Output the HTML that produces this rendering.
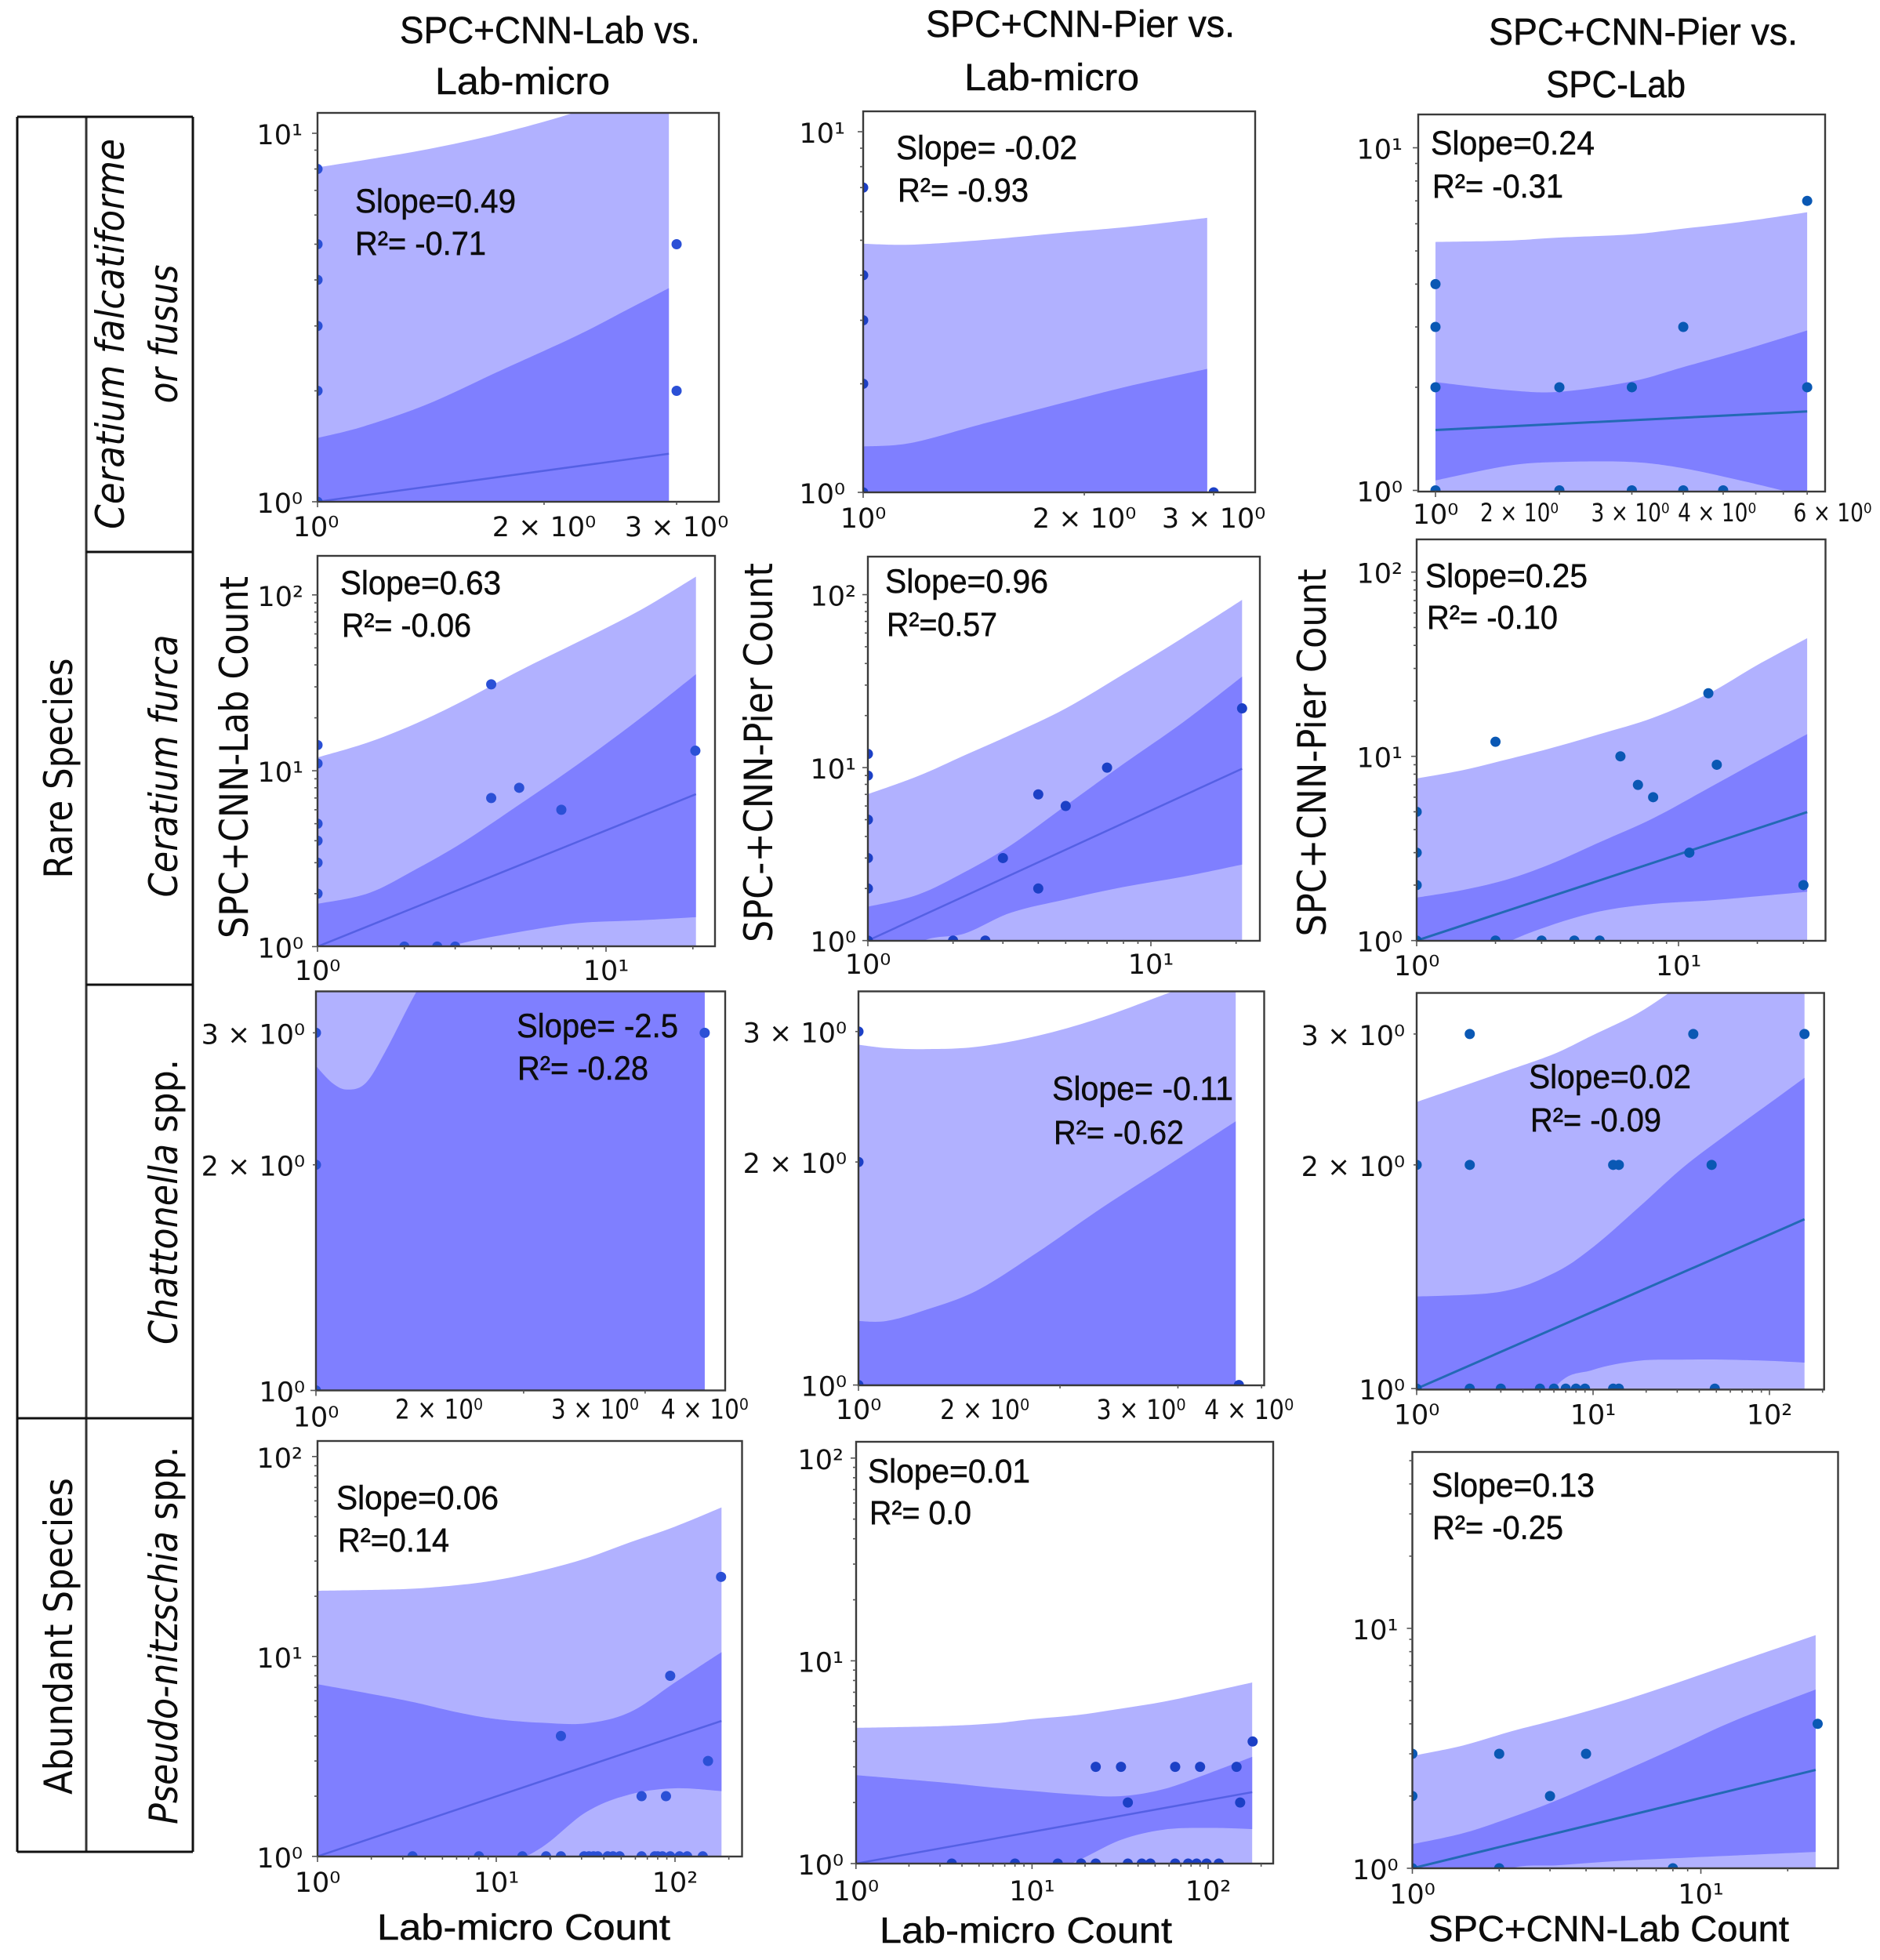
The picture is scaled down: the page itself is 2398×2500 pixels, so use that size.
<!DOCTYPE html>
<html lang="en">
<head>
<meta charset="utf-8">
<title>Species count regression panels</title>
<style>
  html, body { margin: 0; padding: 0; background: #fff; }
  svg { display: block; }
  .ttl { font-family: "Liberation Sans", sans-serif; font-size: 48px; fill: #0c0c0c; stroke: #0c0c0c; stroke-width: 0.5px; }
  .ann { font-family: "Liberation Sans", sans-serif; font-size: 43px; fill: #0c0c0c; stroke: #0c0c0c; stroke-width: 0.5px; }
  .xl  { font-family: "Liberation Sans", sans-serif; font-size: 46px; fill: #0c0c0c; stroke: #0c0c0c; stroke-width: 0.5px; }
  .yl  { font-family: "DejaVu Sans", sans-serif; font-size: 50px; fill: #0c0c0c; }
  .rl  { font-family: "DejaVu Sans", sans-serif; font-size: 50px; fill: #0c0c0c; font-style: italic; }
  .gl  { font-family: "DejaVu Sans", sans-serif; font-size: 50px; fill: #0c0c0c; }
  .tk  { font-family: "DejaVu Sans", sans-serif; fill: #111; }
</style>
</head>
<body>
<svg id="figure" xmlns="http://www.w3.org/2000/svg" width="2398" height="2500" viewBox="0 0 2398 2500">
  <rect x="0" y="0" width="2398" height="2500" fill="#ffffff"/>

  <g id="panels"></g>

  <g stroke="#111" stroke-width="3" fill="none">
    <line x1="22" y1="149" x2="22" y2="2362"/>
    <line x1="110" y1="149" x2="110" y2="2362" stroke="#333"/>
    <line x1="246" y1="149" x2="246" y2="2362"/>
    <line x1="22" y1="149" x2="246" y2="149"/>
    <line x1="110" y1="704" x2="246" y2="704"/>
    <line x1="110" y1="1256" x2="246" y2="1256"/>
    <line x1="22" y1="1809" x2="246" y2="1809"/>
    <line x1="22" y1="2362" x2="246" y2="2362"/>
  </g>

  <g>
    <text class="gl" transform="translate(92,980) rotate(-90)" text-anchor="middle" textLength="281" lengthAdjust="spacingAndGlyphs">Rare Species</text>
    <text class="gl" transform="translate(92,2087) rotate(-90)" text-anchor="middle" textLength="404" lengthAdjust="spacingAndGlyphs">Abundant Species</text>
  </g>
  <g>
    <text class="rl" transform="translate(158,426) rotate(-90)" text-anchor="middle" textLength="498" lengthAdjust="spacingAndGlyphs">Ceratium falcatiforme</text>
    <text class="rl" transform="translate(226,426) rotate(-90)" text-anchor="middle" textLength="177" lengthAdjust="spacingAndGlyphs">or fusus</text>
    <text class="rl" transform="translate(226,977) rotate(-90)" text-anchor="middle" textLength="335" lengthAdjust="spacingAndGlyphs">Ceratium furca</text>
    <text class="rl" transform="translate(226,1533) rotate(-90)" text-anchor="middle" textLength="364" lengthAdjust="spacingAndGlyphs">Chattonella <tspan font-style="normal">spp.</tspan></text>
    <text class="rl" transform="translate(226,2086) rotate(-90)" text-anchor="middle" textLength="482" lengthAdjust="spacingAndGlyphs">Pseudo-nitzschia <tspan font-style="normal">spp.</tspan></text>
  </g>

  <g>
    <text class="ttl" x="510" y="55" textLength="383" lengthAdjust="spacingAndGlyphs">SPC+CNN-Lab vs.</text>
    <text class="ttl" x="555" y="120" textLength="223" lengthAdjust="spacingAndGlyphs">Lab-micro</text>
    <text class="ttl" x="1181" y="47" textLength="394" lengthAdjust="spacingAndGlyphs">SPC+CNN-Pier vs.</text>
    <text class="ttl" x="1230" y="115" textLength="223" lengthAdjust="spacingAndGlyphs">Lab-micro</text>
    <text class="ttl" x="1899" y="57" textLength="394" lengthAdjust="spacingAndGlyphs">SPC+CNN-Pier vs.</text>
    <text class="ttl" x="1972" y="124" textLength="178" lengthAdjust="spacingAndGlyphs">SPC-Lab</text>
  </g>

  <g>
    <text class="yl" transform="translate(316,966) rotate(-90)" text-anchor="middle" textLength="462" lengthAdjust="spacingAndGlyphs">SPC+CNN-Lab Count</text>
    <text class="yl" transform="translate(985,960) rotate(-90)" text-anchor="middle" textLength="484" lengthAdjust="spacingAndGlyphs">SPC-+CNN-Pier Count</text>
    <text class="yl" transform="translate(1691,960) rotate(-90)" text-anchor="middle" textLength="469" lengthAdjust="spacingAndGlyphs">SPC+CNN-Pier Count</text>
  </g>
  <g>
    <text class="xl" x="481" y="2474" textLength="374" lengthAdjust="spacingAndGlyphs">Lab-micro Count</text>
    <text class="xl" x="1122" y="2478" textLength="373" lengthAdjust="spacingAndGlyphs">Lab-micro Count</text>
    <text class="xl" x="1822" y="2476" textLength="460" lengthAdjust="spacingAndGlyphs">SPC+CNN-Lab Count</text>
  </g>

  <g>
    <text class="ann" x="453" y="271" textLength="205" lengthAdjust="spacingAndGlyphs">Slope=0.49</text>
    <text class="ann" x="453" y="325" textLength="167" lengthAdjust="spacingAndGlyphs">R²= -0.71</text>
    <text class="ann" x="1143" y="203" textLength="231" lengthAdjust="spacingAndGlyphs">Slope= -0.02</text>
    <text class="ann" x="1145" y="257" textLength="167" lengthAdjust="spacingAndGlyphs">R²= -0.93</text>
    <text class="ann" x="1825" y="197" textLength="209" lengthAdjust="spacingAndGlyphs">Slope=0.24</text>
    <text class="ann" x="1827" y="252" textLength="167" lengthAdjust="spacingAndGlyphs">R²= -0.31</text>
    <text class="ann" x="434" y="758" textLength="205" lengthAdjust="spacingAndGlyphs">Slope=0.63</text>
    <text class="ann" x="436" y="812" textLength="165" lengthAdjust="spacingAndGlyphs">R²= -0.06</text>
    <text class="ann" x="1129" y="756" textLength="208" lengthAdjust="spacingAndGlyphs">Slope=0.96</text>
    <text class="ann" x="1131" y="811" textLength="141" lengthAdjust="spacingAndGlyphs">R²=0.57</text>
    <text class="ann" x="1818" y="749" textLength="207" lengthAdjust="spacingAndGlyphs">Slope=0.25</text>
    <text class="ann" x="1820" y="802" textLength="167" lengthAdjust="spacingAndGlyphs">R²= -0.10</text>
    <text class="ann" x="659" y="1323" textLength="206" lengthAdjust="spacingAndGlyphs">Slope= -2.5</text>
    <text class="ann" x="660" y="1377" textLength="167" lengthAdjust="spacingAndGlyphs">R²= -0.28</text>
    <text class="ann" x="1342" y="1403" textLength="231" lengthAdjust="spacingAndGlyphs">Slope= -0.11</text>
    <text class="ann" x="1344" y="1459" textLength="166" lengthAdjust="spacingAndGlyphs">R²= -0.62</text>
    <text class="ann" x="1950" y="1388" textLength="207" lengthAdjust="spacingAndGlyphs">Slope=0.02</text>
    <text class="ann" x="1952" y="1443" textLength="167" lengthAdjust="spacingAndGlyphs">R²= -0.09</text>
    <text class="ann" x="429" y="1925" textLength="207" lengthAdjust="spacingAndGlyphs">Slope=0.06</text>
    <text class="ann" x="431" y="1979" textLength="142" lengthAdjust="spacingAndGlyphs">R²=0.14</text>
    <text class="ann" x="1107" y="1891" textLength="207" lengthAdjust="spacingAndGlyphs">Slope=0.01</text>
    <text class="ann" x="1109" y="1944" textLength="130" lengthAdjust="spacingAndGlyphs">R²= 0.0</text>
    <text class="ann" x="1826" y="1909" textLength="208" lengthAdjust="spacingAndGlyphs">Slope=0.13</text>
    <text class="ann" x="1827" y="1963" textLength="167" lengthAdjust="spacingAndGlyphs">R²= -0.25</text>
  </g>
</svg>

<script>
// ---- Row 1, column 1 ----
const r1c1BandX = [1, 1.15, 1.4, 1.75, 2.2, 2.6, 2.93];
const r1c1OuterHi = [8.08, 8.45, 9.05, 10.0, 11.4, 13.0, 15.0];
const r1c1InnerHi = [1.49, 1.6, 1.84, 2.27, 2.81, 3.35, 3.8];
const r1c1InnerLo = [0.6, 0.6, 0.6, 0.6, 0.6, 0.6, 0.6];
const r1c1OuterLo = [0.3, 0.3, 0.3, 0.3, 0.3, 0.3, 0.3];
const r1c1FitX = [1, 2.93];
const r1c1FitY = [1, 1.35];
const r1c1PtX = [1, 1, 1, 1, 1, 1, 3, 3];
const r1c1PtY = [8, 5, 4, 3, 2, 1, 5, 2];
const r1c1XTicks = [1, 2, 3];
const r1c1XLabels = ['10⁰', '2 × 10⁰', '3 × 10⁰'];
const r1c1YTicks = [10, 1];
const r1c1YLabels = ['10¹', '10⁰'];

// ---- Row 1, column 2 ----
const r1c2BandX = [1, 1.16, 1.44, 1.87, 2.3, 2.94];
const r1c2OuterHi = [4.89, 4.86, 5.0, 5.25, 5.45, 5.77];
const r1c2InnerHi = [1.34, 1.37, 1.54, 1.77, 1.97, 2.2];
const r1c2InnerLo = [0.6, 0.6, 0.6, 0.6, 0.6, 0.6];
const r1c2OuterLo = [0.3, 0.3, 0.3, 0.3, 0.3, 0.3];
const r1c2FitX = [1, 2.94];
const r1c2FitY = [1, 1];
const r1c2PtX = [1, 1, 1, 1, 1, 3];
const r1c2PtY = [7, 4, 3, 2, 1, 1];
const r1c2XTicks = [1, 2, 3];
const r1c2XLabels = ['10⁰', '2 × 10⁰', '3 × 10⁰'];
const r1c2YTicks = [10, 1];
const r1c2YLabels = ['10¹', '10⁰'];

// ---- Row 1, column 3 ----
const r1c3BandX = [1, 1.5, 2, 3, 4, 5.5, 8];
const r1c3OuterHi = [5.31, 5.36, 5.47, 5.59, 5.81, 6.07, 6.48];
const r1c3InnerHi = [2.07, 1.96, 1.94, 2.08, 2.29, 2.55, 2.93];
const r1c3InnerLo = [1.07, 1.18, 1.21, 1.21, 1.16, 1.07, 0.96];
const r1c3OuterLo = [0.3, 0.3, 0.3, 0.3, 0.3, 0.3, 0.3];
const r1c3FitX = [1, 8];
const r1c3FitY = [1.5, 1.7];
const r1c3PtX = [1, 1, 1, 1, 2, 3, 4, 8, 8, 2, 3, 4, 5];
const r1c3PtY = [4, 3, 2, 1, 2, 2, 3, 7, 2, 1, 1, 1, 1];
const r1c3XTicks = [1, 2, 3, 4, 6];
const r1c3XLabels = ['10⁰', '2 × 10⁰', '3 × 10⁰', '4 × 10⁰', '6 × 10⁰'];
const r1c3YTicks = [10, 1];
const r1c3YLabels = ['10¹', '10⁰'];

// ---- Row 2, column 1 ----
const r2c1BandX = [1, 1.5, 2.2, 3.2, 5, 8, 13, 20.5];
const r2c1OuterHi = [11.9, 14.5, 18.6, 25, 37, 54, 81, 127];
const r2c1InnerHi = [1.75, 2.01, 2.76, 3.93, 6.41, 10.9, 19.6, 35.4];
const r2c1InnerLo = [0.5, 0.68, 0.88, 1.05, 1.21, 1.36, 1.41, 1.47];
const r2c1OuterLo = [0.2, 0.2, 0.2, 0.2, 0.2, 0.2, 0.2, 0.2];
const r2c1FitX = [1, 20.5];
const r2c1FitY = [1, 7.36];
const r2c1PtX = [1, 1, 1, 1, 1, 1, 4, 4, 5, 7, 20.4, 2, 2.6, 3];
const r2c1PtY = [14, 11, 5, 4, 3, 2, 31, 7, 8, 6, 13, 1, 1, 1];
const r2c1XTicks = [1, 10];
const r2c1XLabels = ['10⁰', '10¹'];
const r2c1YTicks = [100, 10, 1];
const r2c1YLabels = ['10²', '10¹', '10⁰'];

// ---- Row 2, column 2 ----
const r2c2BandX = [1, 1.5, 2.2, 3.2, 5, 8, 13, 21];
const r2c2OuterHi = [7.03, 8.92, 11.8, 15.5, 22, 34.7, 56.5, 93.3];
const r2c2InnerHi = [1.57, 1.84, 2.49, 3.56, 6.03, 10.5, 18.3, 33.6];
const r2c2InnerLo = [0.5, 0.96, 1.1, 1.45, 1.73, 2.04, 2.34, 2.75];
const r2c2OuterLo = [0.2, 0.2, 0.2, 0.2, 0.2, 0.2, 0.2, 0.2];
const r2c2FitX = [1, 21];
const r2c2FitY = [1, 9.86];
const r2c2PtX = [1, 1, 1, 1, 1, 1, 3, 4, 4, 5, 7, 21, 2, 2.6];
const r2c2PtY = [12, 9, 5, 3, 2, 1, 3, 7, 2, 6, 10, 22, 1, 1];
const r2c2XTicks = [1, 10];
const r2c2XLabels = ['10⁰', '10¹'];
const r2c2YTicks = [100, 10, 1];
const r2c2YLabels = ['10²', '10¹', '10⁰'];

// ---- Row 2, column 3 ----
const r2c3BandX = [1, 1.5, 2.2, 3.2, 5, 8, 13, 20, 31];
const r2c3OuterHi = [7.58, 8.41, 9.6, 11, 13.2, 16.2, 21.9, 31.3, 43.8];
const r2c3InnerHi = [1.71, 1.88, 2.14, 2.58, 3.42, 4.61, 6.71, 9.4, 13.2];
const r2c3InnerLo = [0.4, 0.7, 0.97, 1.2, 1.44, 1.58, 1.65, 1.74, 1.84];
const r2c3OuterLo = [0.2, 0.2, 0.2, 0.2, 0.2, 0.2, 0.2, 0.2, 0.2];
const r2c3FitX = [1, 31];
const r2c3FitY = [1, 4.98];
const r2c3PtX = [1, 1, 1, 1, 2, 6, 7, 8, 13, 14, 11, 30, 2, 3, 4, 5];
const r2c3PtY = [5, 3, 2, 1, 12, 10, 7, 6, 22, 9, 3, 2, 1, 1, 1, 1];
const r2c3XTicks = [1, 10];
const r2c3XLabels = ['10⁰', '10¹'];
const r2c3YTicks = [100, 10, 1];
const r2c3YLabels = ['10²', '10¹', '10⁰'];

// ---- Row 3, column 1 ----
const r3c1BandX = [1, 1.057, 1.11, 1.18, 1.26, 1.4, 1.56, 3.66];
const r3c1OuterHi = [40, 40, 40, 40, 40, 40, 40, 40];
const r3c1InnerHi = [2.71, 2.57, 2.52, 2.57, 2.83, 3.41, 4, 12];
const r3c1InnerLo = [0.4, 0.4, 0.4, 0.4, 0.4, 0.4, 0.4, 0.4];
const r3c1OuterLo = [0.3, 0.3, 0.3, 0.3, 0.3, 0.3, 0.3, 0.3];
const r3c1FitX = [1, 3.66];
const r3c1FitY = [1, 1];
const r3c1PtX = [1, 1, 1, 3.66];
const r3c1PtY = [3, 2, 1, 3];
const r3c1XTicks = [1, 2, 3, 4];
const r3c1XLabels = ['10⁰', '2 × 10⁰', '3 × 10⁰', '4 × 10⁰'];
const r3c1YTicks = [3, 2, 1];
const r3c1YLabels = ['3 × 10⁰', '2 × 10⁰', '10⁰'];

// ---- Row 3, column 2 ----
const r3c2BandX = [1, 1.1, 1.25, 1.5, 1.85, 2.3, 2.9, 3.66];
const r3c2OuterHi = [2.88, 2.85, 2.84, 2.86, 2.96, 3.13, 3.38, 3.65];
const r3c2InnerHi = [1.22, 1.22, 1.26, 1.34, 1.51, 1.73, 1.98, 2.27];
const r3c2InnerLo = [0.4, 0.4, 0.4, 0.4, 0.4, 0.4, 0.4, 0.4];
const r3c2OuterLo = [0.3, 0.3, 0.3, 0.3, 0.3, 0.3, 0.3, 0.3];
const r3c2FitX = [1, 3.66];
const r3c2FitY = [1, 1];
const r3c2PtX = [1, 1, 1, 3.7];
const r3c2PtY = [3, 2, 1, 1];
const r3c2XTicks = [1, 2, 3, 4];
const r3c2XLabels = ['10⁰', '2 × 10⁰', '3 × 10⁰', '4 × 10⁰'];
const r3c2YTicks = [3, 2, 1];
const r3c2YLabels = ['3 × 10⁰', '2 × 10⁰', '10⁰'];

// ---- Row 3, column 3 ----
const r3c3BandX = [1, 3, 6, 10, 18, 32, 56, 100, 158];
const r3c3OuterHi = [2.43, 2.66, 2.82, 2.99, 3.2, 3.5, 3.78, 4.07, 4.35];
const r3c3InnerHi = [1.33, 1.35, 1.43, 1.55, 1.75, 1.98, 2.19, 2.42, 2.62];
const r3c3InnerLo = [0.5, 0.75, 1.0, 1.06, 1.09, 1.094, 1.094, 1.09, 1.084];
const r3c3OuterLo = [0.3, 0.3, 0.3, 0.3, 0.3, 0.3, 0.3, 0.3, 0.3];
const r3c3FitX = [1, 158];
const r3c3FitY = [1, 1.69];
const r3c3PtX = [2, 37, 158, 1, 2, 13, 14, 47, 1, 2, 3, 5, 6, 7, 8, 9, 13, 14, 49];
const r3c3PtY = [3, 3, 3, 2, 2, 2, 2, 2, 1, 1, 1, 1, 1, 1, 1, 1, 1, 1, 1];
const r3c3XTicks = [1, 10, 100];
const r3c3XLabels = ['10⁰', '10¹', '10²'];
const r3c3YTicks = [3, 2, 1];
const r3c3YLabels = ['3 × 10⁰', '2 × 10⁰', '10⁰'];

// ---- Row 4, column 1 ----
const r4c1BandX = [1, 3, 6, 10, 18, 32, 56, 100, 182];
const r4c1OuterHi = [21.3, 21.7, 22.7, 24.1, 26.9, 31, 37.2, 44.6, 55.6];
const r4c1InnerHi = [7.26, 6.06, 5.26, 4.86, 4.66, 4.63, 5.26, 7.41, 10.5];
const r4c1InnerLo = [0.55, 0.6, 0.7, 0.85, 1.11, 1.67, 2.04, 2.19, 2.12];
const r4c1OuterLo = [0.5, 0.5, 0.5, 0.5, 0.5, 0.5, 0.5, 0.5, 0.5];
const r4c1FitX = [1, 182];
const r4c1FitY = [1, 4.76];
const r4c1PtX = [181, 94, 23, 153, 65, 89, 3.4, 8, 14, 19, 23, 31, 33, 35, 37, 42, 45, 49, 65, 77, 80, 85, 94, 106, 117, 143];
const r4c1PtY = [25, 8, 4, 3, 2, 2, 1, 1, 1, 1, 1, 1, 1, 1, 1, 1, 1, 1, 1, 1, 1, 1, 1, 1, 1, 1];
const r4c1XTicks = [1, 10, 100];
const r4c1XLabels = ['10⁰', '10¹', '10²'];
const r4c1YTicks = [100, 10, 1];
const r4c1YLabels = ['10²', '10¹', '10⁰'];

// ---- Row 4, column 2 ----
const r4c2BandX = [1, 3, 6, 10, 18, 32, 56, 100, 178];
const r4c2OuterHi = [4.67, 4.76, 4.91, 5.16, 5.4, 5.81, 6.29, 7, 7.82];
const r4c2InnerHi = [2.73, 2.52, 2.37, 2.28, 2.19, 2.15, 2.33, 2.78, 3.36];
const r4c2InnerLo = [0.55, 0.6, 0.7, 0.85, 1.03, 1.31, 1.47, 1.5, 1.48];
const r4c2OuterLo = [0.5, 0.5, 0.5, 0.5, 0.5, 0.5, 0.5, 0.5, 0.5];
const r4c2FitX = [1, 178];
const r4c2FitY = [1, 2.25];
const r4c2PtX = [23, 32, 65, 90, 145, 179, 35, 152, 3.5, 8, 14, 19, 23, 35, 42, 47, 65, 77, 86, 98, 115];
const r4c2PtY = [3, 3, 3, 3, 3, 4, 2, 2, 1, 1, 1, 1, 1, 1, 1, 1, 1, 1, 1, 1, 1];
const r4c2XTicks = [1, 10, 100];
const r4c2XLabels = ['10⁰', '10¹', '10²'];
const r4c2YTicks = [100, 10, 1];
const r4c2YLabels = ['10²', '10¹', '10⁰'];

// ---- Row 4, column 3 ----
const r4c3BandX = [1, 1.5, 2.2, 3.2, 5, 8, 13, 25];
const r4c3OuterHi = [2.94, 3.25, 3.72, 4.18, 4.87, 5.85, 7.16, 9.37];
const r4c3InnerHi = [1.26, 1.4, 1.63, 1.93, 2.44, 3.14, 4.11, 5.56];
const r4c3InnerLo = [0.6, 0.8, 1.0, 1.03, 1.07, 1.1, 1.13, 1.17];
const r4c3OuterLo = [0.5, 0.5, 0.5, 0.5, 0.5, 0.5, 0.5, 0.5];
const r4c3FitX = [1, 25];
const r4c3FitY = [1, 2.57];
const r4c3PtX = [1, 1, 1, 2, 4, 3, 25.4, 2, 8];
const r4c3PtY = [3, 2, 1, 3, 3, 2, 4, 1, 1];
const r4c3XTicks = [1, 10];
const r4c3XLabels = ['10⁰', '10¹'];
const r4c3YTicks = [10, 1];
const r4c3YLabels = ['10¹', '10⁰'];

// ---- Panel layout: frame, axis anchors and tick-label typography ----
const panels = [
  { id: 'r1c1', L: 405, R: 917, T: 144, B: 640, xo: 405, xd: 960, yo: 640, yd: 470, col: 1, fs: 35, gap: 19, xLabelDy: [44, 44, 44], xLabelDx: [-2, 0, 0],
    d: [r1c1BandX, r1c1OuterHi, r1c1InnerHi, r1c1InnerLo, r1c1OuterLo, r1c1FitX, r1c1FitY, r1c1PtX, r1c1PtY, r1c1XTicks, r1c1XLabels, r1c1YTicks, r1c1YLabels] },
  { id: 'r1c2', L: 1101, R: 1601, T: 142, B: 628, xo: 1101, xd: 937, yo: 628, yd: 460, col: 2, fs: 35, gap: 23, xLabelDy: [45, 45, 45], xLabelDx: [0, 0, 0],
    d: [r1c2BandX, r1c2OuterHi, r1c2InnerHi, r1c2InnerLo, r1c2OuterLo, r1c2FitX, r1c2FitY, r1c2PtX, r1c2PtY, r1c2XTicks, r1c2XLabels, r1c2YTicks, r1c2YLabels] },
  { id: 'r1c3', L: 1809, R: 2328, T: 146, B: 627, xo: 1831, xd: 525, yo: 625.5, yd: 437, col: 3, fs: 35, xfs: 32, xLen: 100, gap: 20, xLabelDy: [41, 38, 38, 38, 38], xLabelDx: [0, -51, -2, 43, 98],
    d: [r1c3BandX, r1c3OuterHi, r1c3InnerHi, r1c3InnerLo, r1c3OuterLo, r1c3FitX, r1c3FitY, r1c3PtX, r1c3PtY, r1c3XTicks, r1c3XLabels, r1c3YTicks, r1c3YLabels] },
  { id: 'r2c1', L: 405, R: 912, T: 709, B: 1207, xo: 405, xd: 368, yo: 1207.4, yd: 224.3, col: 1, fs: 35, gap: 18, xLabelDy: [43, 43], xLabelDx: [0, 0],
    d: [r2c1BandX, r2c1OuterHi, r2c1InnerHi, r2c1InnerLo, r2c1OuterLo, r2c1FitX, r2c1FitY, r2c1PtX, r2c1PtY, r2c1XTicks, r2c1XLabels, r2c1YTicks, r2c1YLabels] },
  { id: 'r2c2', L: 1107, R: 1607, T: 710, B: 1200, xo: 1107, xd: 361, yo: 1199.7, yd: 220.6, col: 2, fs: 35, gap: 15, xLabelDy: [42, 42], xLabelDx: [0, 0],
    d: [r2c2BandX, r2c2OuterHi, r2c2InnerHi, r2c2InnerLo, r2c2OuterLo, r2c2FitX, r2c2FitY, r2c2PtX, r2c2PtY, r2c2XTicks, r2c2XLabels, r2c2YTicks, r2c2YLabels] },
  { id: 'r2c3', L: 1807, R: 2328.5, T: 688, B: 1200, xo: 1807, xd: 334, yo: 1199.7, yd: 235, col: 3, fs: 35, gap: 18, xLabelDy: [44, 44], xLabelDx: [0, 0],
    d: [r2c3BandX, r2c3OuterHi, r2c3InnerHi, r2c3InnerLo, r2c3OuterLo, r2c3FitX, r2c3FitY, r2c3PtX, r2c3PtY, r2c3XTicks, r2c3XLabels, r2c3YTicks, r2c3YLabels] },
  { id: 'r3c1', L: 403, R: 925, T: 1264.5, B: 1773.5, xo: 403, xd: 880, yo: 1773.5, yd: 956, col: 1, fs: 35, xfs: 35, xLen: 112, gap: 14, xLabelDy: [46, 36, 36, 36], xLabelDx: [0, -108, -64, -34],
    d: [r3c1BandX, r3c1OuterHi, r3c1InnerHi, r3c1InnerLo, r3c1OuterLo, r3c1FitX, r3c1FitY, r3c1PtX, r3c1PtY, r3c1XTicks, r3c1XLabels, r3c1YTicks, r3c1YLabels] },
  { id: 'r3c2', L: 1095, R: 1612.5, T: 1264.5, B: 1767, xo: 1095, xd: 854, yo: 1766.6, yd: 945, col: 2, fs: 35, xfs: 35, xLen: 114, gap: 15, xLabelDy: [43, 43, 43, 43], xLabelDx: [0, -96, -47, -16],
    d: [r3c2BandX, r3c2OuterHi, r3c2InnerHi, r3c2InnerLo, r3c2OuterLo, r3c2FitX, r3c2FitY, r3c2PtX, r3c2PtY, r3c2XTicks, r3c2XLabels, r3c2YTicks, r3c2YLabels] },
  { id: 'r3c3', L: 1807, R: 2326.7, T: 1266.5, B: 1772.4, xo: 1807, xd: 225, yo: 1771.2, yd: 948, col: 3, fs: 35, gap: 15, xLabelDy: [44, 44, 44], xLabelDx: [0, 0, 0],
    d: [r3c3BandX, r3c3OuterHi, r3c3InnerHi, r3c3InnerLo, r3c3OuterLo, r3c3FitX, r3c3FitY, r3c3PtX, r3c3PtY, r3c3XTicks, r3c3XLabels, r3c3YTicks, r3c3YLabels] },
  { id: 'r4c1', L: 405, R: 946.5, T: 1838, B: 2368, xo: 405, xd: 228, yo: 2367.8, yd: 255, col: 1, fs: 35, gap: 19, xLabelDy: [45, 45, 45], xLabelDx: [0, 0, 0],
    d: [r4c1BandX, r4c1OuterHi, r4c1InnerHi, r4c1InnerLo, r4c1OuterLo, r4c1FitX, r4c1FitY, r4c1PtX, r4c1PtY, r4c1XTicks, r4c1XLabels, r4c1YTicks, r4c1YLabels] },
  { id: 'r4c2', L: 1092, R: 1624, T: 1839, B: 2377, xo: 1091.8, xd: 224.6, yo: 2377, yd: 258.6, col: 2, fs: 35, gap: 16, xLabelDy: [47, 47, 47], xLabelDx: [0, 0, 0],
    d: [r4c2BandX, r4c2OuterHi, r4c2InnerHi, r4c2InnerLo, r4c2OuterLo, r4c2FitX, r4c2FitY, r4c2PtX, r4c2PtY, r4c2XTicks, r4c2XLabels, r4c2YTicks, r4c2YLabels] },
  { id: 'r4c3', L: 1801.5, R: 2344.5, T: 1852, B: 2383, xo: 1801.5, xd: 368, yo: 2383, yd: 306, col: 3, fs: 35, gap: 18, xLabelDy: [45, 45], xLabelDx: [0, 0],
    d: [r4c3BandX, r4c3OuterHi, r4c3InnerHi, r4c3InnerLo, r4c3OuterLo, r4c3FitX, r4c3FitY, r4c3PtX, r4c3PtY, r4c3XTicks, r4c3XLabels, r4c3YTicks, r4c3YLabels] }
];

const NS = 'http://www.w3.org/2000/svg';
const root = document.getElementById('panels');
const OUTER_FILL = '#b1b1ff';
const INNER_FILL = '#7f7fff';
const POINT_FILL = { 1: '#2b50d6', 2: '#1c40c6', 3: '#0a58b4' };
const FIT_STROKE = { 1: '#5560e4', 2: '#5560e4', 3: '#2369b5' };
const FIT_WIDTH = { 1: 2.5, 2: 2.5, 3: 3 };

function make(tag, attrs, parent) {
  const node = document.createElementNS(NS, tag);
  for (const k in attrs) node.setAttribute(k, attrs[k]);
  parent.appendChild(node);
  return node;
}

// Catmull-Rom spline through pixel points, returned as path segments
function spline(pts) {
  let s = '';
  for (let i = 0; i < pts.length - 1; i++) {
    const p0 = pts[Math.max(i - 1, 0)], p1 = pts[i], p2 = pts[i + 1], p3 = pts[Math.min(i + 2, pts.length - 1)];
    const c1x = p1[0] + (p2[0] - p0[0]) / 6, c1y = p1[1] + (p2[1] - p0[1]) / 6;
    const c2x = p2[0] - (p3[0] - p1[0]) / 6, c2y = p2[1] - (p3[1] - p1[1]) / 6;
    s += ' C' + c1x.toFixed(1) + ' ' + c1y.toFixed(1) + ' ' + c2x.toFixed(1) + ' ' + c2y.toFixed(1) + ' ' + p2[0].toFixed(1) + ' ' + p2[1].toFixed(1);
  }
  return s;
}

function bandPath(xs, hi, lo, sx, sy) {
  const top = xs.map((v, i) => [sx(v), sy(hi[i])]);
  const bot = xs.map((v, i) => [sx(v), sy(lo[i])]).reverse();
  return 'M' + top[0][0].toFixed(1) + ' ' + top[0][1].toFixed(1) + spline(top) +
         ' L' + bot[0][0].toFixed(1) + ' ' + bot[0][1].toFixed(1) + spline(bot) + ' Z';
}

panels.forEach(function (p) {
  const bandX = p.d[0], outerHi = p.d[1], innerHi = p.d[2], innerLo = p.d[3], outerLo = p.d[4];
  const fitX = p.d[5], fitY = p.d[6], ptX = p.d[7], ptY = p.d[8];
  const xTicks = p.d[9], xLabels = p.d[10], yTicks = p.d[11], yLabels = p.d[12];

  // Logarithmic axis functions
  const sx = function (v) { return p.xo + p.xd * Math.log10(v); };
  const sy = function (v) { return p.yo - p.yd * Math.log10(v); };

  const g = make('g', { id: 'panel-' + p.id }, root);
  
  

  const defs = make('defs', {}, g);
  const clip = make('clipPath', { id: 'clip-' + p.id }, defs);
  make('rect', { x: p.L, y: p.T, width: p.R - p.L, height: p.B - p.T }, clip);

  const plot = make('g', { 'clip-path': 'url(#clip-' + p.id + ')' }, g);
  
  

  const outer = make('path', { d: bandPath(bandX, outerHi, outerLo, sx, sy), fill: OUTER_FILL }, plot);
  
  

  const inner = make('path', { d: bandPath(bandX, innerHi, innerLo, sx, sy), fill: INNER_FILL }, plot);
  
  

  const fit = make('line', {
    x1: sx(fitX[0]), y1: sy(fitY[0]), x2: sx(fitX[1]), y2: sy(fitY[1]),
    stroke: FIT_STROKE[p.col], 'stroke-width': FIT_WIDTH[p.col]
  }, plot);
  
  

  ptX.forEach(function (v, i) {
    const dot = make('circle', { cx: sx(v), cy: sy(ptY[i]), r: 6.5, fill: POINT_FILL[p.col] }, plot);
    
    
  });

  const frame = make('rect', {
    x: p.L, y: p.T, width: p.R - p.L, height: p.B - p.T,
    fill: 'none', stroke: '#3a3a3a', 'stroke-width': 2.4
  }, g);
  
  

  // Minor and major ticks on both log axes
  [1, 10, 100].forEach(function (dec) {
    [1, 2, 3, 4, 5, 6, 7, 8, 9].forEach(function (m) {
      const v = dec * m;
      const px = sx(v), py = sy(v);
      const len = m === 1 ? 7 : 4;
      if (px >= p.L - 0.5 && px <= p.R + 0.5) {
        const tx = make('line', { x1: px, y1: p.B, x2: px, y2: p.B + len, stroke: '#555', 'stroke-width': 1.6 }, g);
        
        
      }
      if (py >= p.T - 0.5 && py <= p.B + 0.5) {
        const ty = make('line', { x1: p.L - len, y1: py, x2: p.L, y2: py, stroke: '#555', 'stroke-width': 1.6 }, g);
        
        
      }
    });
  });

  xTicks.forEach(function (v, i) {
    const t = make('text', {
      class: 'tk', x: sx(v) + p.xLabelDx[i], y: p.B + p.xLabelDy[i],
      'text-anchor': 'middle', 'font-size': i === 0 ? p.fs : (p.xfs || p.fs)
    }, g);
    if (p.xLen && i > 0) {
      t.setAttribute('textLength', p.xLen);
      t.setAttribute('lengthAdjust', 'spacingAndGlyphs');
    }
    
    
    t.textContent = xLabels[i];
  });

  yTicks.forEach(function (v, i) {
    const t = make('text', {
      class: 'tk', x: p.L - p.gap, y: sy(v) + 14,
      'text-anchor': 'end', 'font-size': p.fs
    }, g);
    
    
    t.textContent = yLabels[i];
  });
});
</script>
</body>
</html>
